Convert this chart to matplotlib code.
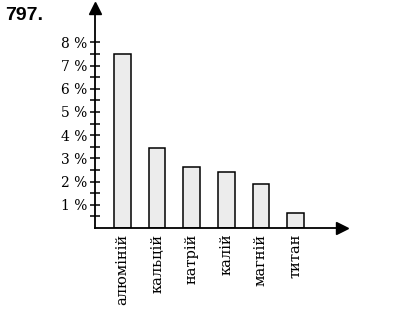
import matplotlib.pyplot as plt
from matplotlib.ticker import FixedLocator

elements = ['алюміній', 'кальцій', 'натрій', 'калій', 'магній', 'титан']
percent = [7.5, 3.45, 2.65, 2.4, 1.9, 0.65]
y_ticks = [1, 2, 3, 4, 5, 6, 7, 8]
y_labels = ['%d %%' % v for v in y_ticks]
half_ticks = [v - 0.5 for v in y_ticks]

W, H = 398, 317
fig = plt.figure(figsize=(W / 100, H / 100), dpi=100)
ax = fig.add_axes([95 / W, (H - 228) / H, (342 - 95) / W, (228 - 8) / H])

x = list(range(len(elements)))
ax.bar(x, percent, width=0.48, color='#ececec', edgecolor='black', lw=1.1, zorder=2)

ax.set_xlim(-0.8, 6.35)
ax.set_ylim(0, 9.48)
for s in ['top', 'right']:
    ax.spines[s].set_visible(False)
for s in ['left', 'bottom']:
    ax.spines[s].set_linewidth(1.3)

# arrow heads on the axes
ax.plot([-0.8], [9.48], marker='^', color='black', ms=8, clip_on=False, zorder=5)
ax.plot([6.35], [0], marker='>', color='black', ms=8, clip_on=False, zorder=5)

ax.set_yticks(y_ticks)
ax.set_yticklabels(y_labels, family='DejaVu Serif', fontsize=10)
ax.yaxis.set_minor_locator(FixedLocator(half_ticks))
ax.tick_params(axis='y', which='both', direction='inout', length=7, width=1.1, pad=2)

ax.set_xticks(x)
ax.set_xticklabels(elements, rotation=90, family='DejaVu Serif', fontsize=10.5)
ax.tick_params(axis='x', length=0, pad=4)

fig.text(5 / W, 1 - 16 / H, '797.', fontsize=14, fontweight='bold',
         family='Liberation Sans', va='center')

fig.savefig('out.png', dpi=100)
